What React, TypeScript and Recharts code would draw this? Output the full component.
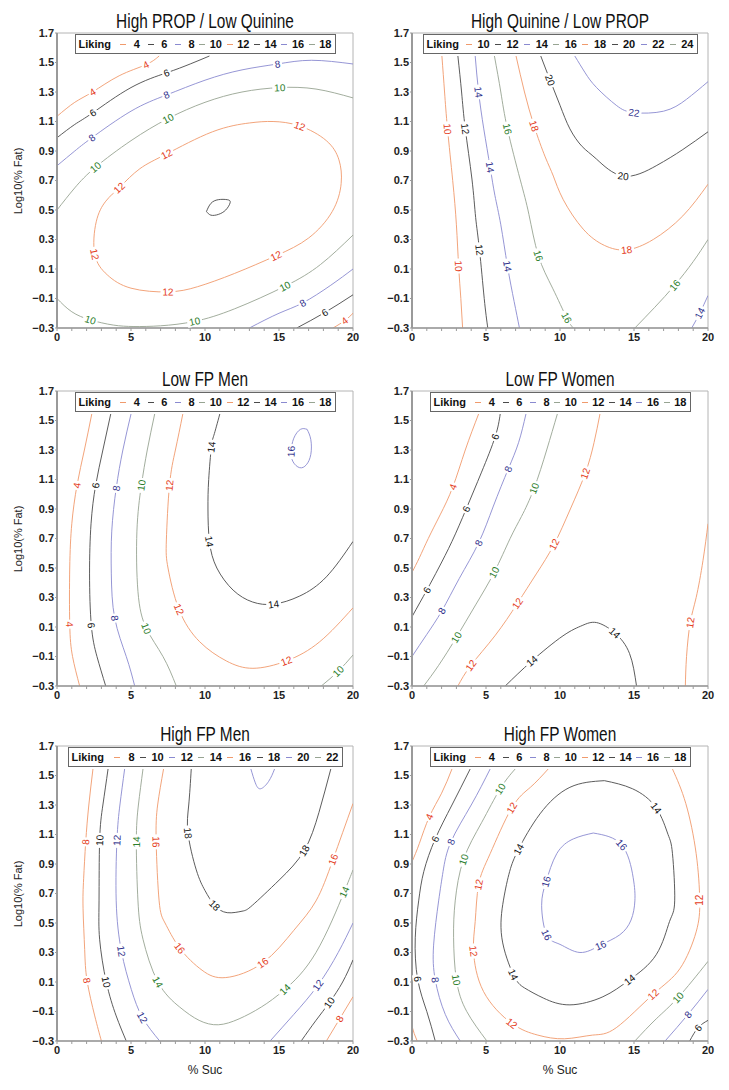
import { ComposedChart, Line, XAxis, YAxis, ReferenceArea } from "recharts";

type Pt = [number, number];
type Contour = { level: number; pts: Pt[]; labels: number[] };

const xTicks = [0, 1, 2, 3, 4, 5, 6, 7, 8, 9, 10, 11, 12, 13, 14, 15, 16, 17, 18, 19, 20];
const yTicks = [-0.3, -0.1, 0.1, 0.3, 0.5, 0.7, 0.9, 1.1, 1.3, 1.5, 1.7];

const levelsLow = [4, 6, 8, 10, 12, 14, 16, 18];
const levelsQuinine = [10, 12, 14, 16, 18, 20, 22, 24];
const levelsHighFpMen = [8, 10, 12, 14, 16, 18, 20, 22];

const propHighContours: Contour[] = [
  { level: 4, pts: [[0, 1.135], [1.2, 1.23], [2.4, 1.3], [4.2, 1.41], [6, 1.485], [6.9, 1.544]], labels: [2, 4] },
  { level: 4, pts: [[18.65, -0.3], [19.44, -0.25], [20, -0.2]], labels: [1] },
  { level: 6, pts: [[0, 0.99], [1.2, 1.08], [2.43, 1.16], [5, 1.33], [7.4, 1.43], [9, 1.49], [10.3, 1.544]], labels: [2, 4] },
  { level: 6, pts: [[16.2, -0.3], [18.1, -0.195], [20, -0.075]], labels: [1] },
  { level: 8, pts: [[0, 0.8], [1.2, 0.9], [2.36, 0.99], [5, 1.17], [7.4, 1.28], [10, 1.38], [12.5, 1.45], [14.9, 1.49], [17.2, 1.515], [20, 1.49]], labels: [2, 4, 7] },
  { level: 8, pts: [[13, -0.3], [15, -0.2], [16.6, -0.13], [18.5, -0.01], [20, 0.1]], labels: [2] },
  { level: 10, pts: [[0, 0.5], [1.2, 0.65], [2.6, 0.79], [5, 0.97], [7.5, 1.12], [10, 1.23], [12.5, 1.3], [15.05, 1.33], [17.5, 1.32], [20, 1.26]], labels: [2, 4, 7] },
  { level: 10, pts: [[0, -0.1], [1, -0.19], [2.25, -0.245], [3.8, -0.28], [5.2, -0.29], [7, -0.285], [9.3, -0.255], [12, -0.17], [15.4, -0.017], [17.8, 0.13], [20, 0.33]], labels: [2, 6, 8] },
  {
    level: 12,
    pts: [[4.2, 0.65], [5.6, 0.78], [7.4, 0.88], [10.5, 1.03], [13, 1.09], [14.6, 1.1], [16.4, 1.07], [18.2, 0.97], [19.05, 0.84], [19.2, 0.68], [18.6, 0.49], [17, 0.31], [14.8, 0.19], [12, 0.07], [9.5, -0.02], [7.5, -0.055], [5, -0.03], [3.4, 0.06], [2.55, 0.2], [2.65, 0.42], [3.3, 0.56], [4.2, 0.65]],
    labels: [0, 2, 6, 12, 15, 18],
  },
  { level: 14, pts: [[10.1, 0.49], [10.4, 0.545], [10.9, 0.57], [11.5, 0.57], [11.7, 0.55], [11.4, 0.5], [10.9, 0.47], [10.4, 0.465], [10.1, 0.49]], labels: [] },
];

const quinineHighContours: Contour[] = [
  { level: 10, pts: [[2.02, 1.544], [2.2, 1.3], [2.4, 1.05], [2.75, 0.7], [3.0, 0.4], [3.15, 0.12], [3.3, -0.1], [3.42, -0.3]], labels: [2, 5] },
  { level: 12, pts: [[3.1, 1.544], [3.35, 1.3], [3.6, 1.05], [4.05, 0.71], [4.3, 0.45], [4.56, 0.23], [4.88, -0.1], [5.12, -0.3]], labels: [2, 5] },
  { level: 14, pts: [[4.27, 1.544], [4.5, 1.3], [4.85, 1.05], [5.28, 0.79], [5.6, 0.6], [6.0, 0.4], [6.45, 0.12], [6.9, -0.12], [7.26, -0.3]], labels: [1, 3, 6] },
  { level: 14, pts: [[18.9, -0.3], [19.44, -0.2], [20, -0.08]], labels: [1] },
  { level: 16, pts: [[5.57, 1.544], [6.0, 1.3], [6.45, 1.05], [7.3, 0.71], [7.9, 0.47], [8.54, 0.19], [9.5, -0.03], [10.45, -0.23], [10.9, -0.3]], labels: [2, 5, 7] },
  { level: 16, pts: [[15.06, -0.3], [16.4, -0.16], [17.75, -0.01], [19, 0.15], [20, 0.3]], labels: [2] },
  { level: 18, pts: [[7.03, 1.544], [7.6, 1.3], [8.25, 1.07], [9.0, 0.86], [9.55, 0.73], [10.22, 0.57], [11.57, 0.37], [13.0, 0.26], [14.5, 0.23], [16.3, 0.3], [18.3, 0.46], [20, 0.675]], labels: [2, 8] },
  { level: 20, pts: [[8.7, 1.544], [9.33, 1.38], [10, 1.21], [10.67, 1.05], [11.5, 0.93], [12.47, 0.845], [14.27, 0.73], [16.5, 0.8], [18.3, 0.91], [20, 1.03]], labels: [1, 6] },
  { level: 22, pts: [[11.0, 1.544], [11.7, 1.43], [12.47, 1.33], [13.8, 1.21], [15.0, 1.16], [17, 1.17], [18.54, 1.25], [20, 1.37]], labels: [4] },
];

const lowFpMenContours: Contour[] = [
  { level: 4, pts: [[2.35, 1.544], [1.85, 1.3], [1.35, 1.06], [1.0, 0.8], [0.86, 0.5], [0.86, 0.12], [1.05, -0.1], [1.53, -0.3]], labels: [2, 5] },
  { level: 6, pts: [[3.63, 1.544], [3.1, 1.3], [2.61, 1.06], [2.3, 0.8], [2.2, 0.46], [2.32, 0.11], [2.7, -0.1], [3.29, -0.3]], labels: [2, 5] },
  { level: 8, pts: [[5.0, 1.544], [4.45, 1.3], [4.0, 1.04], [3.7, 0.75], [3.67, 0.46], [3.9, 0.16], [4.68, -0.1], [5.25, -0.3]], labels: [2, 5] },
  { level: 10, pts: [[6.6, 1.544], [6.1, 1.3], [5.7, 1.06], [5.4, 0.75], [5.47, 0.34], [6.04, 0.09], [7.16, -0.1], [8.06, -0.3]], labels: [2, 5] },
  { level: 10, pts: [[17.86, -0.3], [19.0, -0.2], [20, -0.09]], labels: [1] },
  { level: 12, pts: [[8.5, 1.544], [8.0, 1.3], [7.6, 1.06], [7.39, 0.69], [7.5, 0.5], [8.24, 0.22], [9.64, 0.0], [11.44, -0.13], [13.24, -0.18], [15.5, -0.13], [17.75, 0.0], [20, 0.23]], labels: [2, 5, 9] },
  { level: 14, pts: [[11.0, 1.544], [10.6, 1.4], [10.43, 1.32], [10.25, 1.1], [10.2, 0.9], [10.3, 0.68], [10.8, 0.5], [11.9, 0.35], [13.2, 0.27], [14.64, 0.255], [16.4, 0.31], [18.2, 0.44], [20, 0.68]], labels: [2, 5, 9] },
  { level: 16, pts: [[16.9, 1.44], [17.15, 1.37], [17.15, 1.27], [16.85, 1.2], [16.4, 1.18], [15.95, 1.22], [15.82, 1.29], [16.0, 1.38], [16.45, 1.44], [16.9, 1.44]], labels: [6] },
];

const lowFpWomenContours: Contour[] = [
  { level: 4, pts: [[4.5, 1.544], [3.6, 1.3], [2.76, 1.05], [1.9, 0.86], [1.1, 0.7], [0.5, 0.57], [0, 0.47]], labels: [2] },
  { level: 6, pts: [[5.96, 1.544], [5.62, 1.39], [4.7, 1.15], [3.66, 0.9], [2.7, 0.68], [1.8, 0.5], [1.0, 0.35], [0, 0.17]], labels: [1, 3, 6] },
  { level: 8, pts: [[7.7, 1.544], [7.2, 1.35], [6.5, 1.17], [5.5, 0.92], [4.5, 0.67], [3.2, 0.43], [2.02, 0.21], [1.0, 0.05], [0, -0.1]], labels: [2, 4, 6] },
  { level: 10, pts: [[9.82, 1.544], [9.1, 1.3], [8.25, 1.04], [7.4, 0.85], [6.63, 0.7], [5.55, 0.47], [4.3, 0.25], [3.0, 0.03], [1.8, -0.16], [0.79, -0.3]], labels: [2, 5, 7] },
  { level: 12, pts: [[12.7, 1.544], [12.3, 1.35], [11.7, 1.14], [10.7, 0.9], [9.6, 0.66], [8.4, 0.46], [7.12, 0.26], [5.6, 0.04], [3.98, -0.16], [3.1, -0.3]], labels: [2, 4, 6, 8] },
  { level: 12, pts: [[20, 0.8], [19.66, 0.55], [19.2, 0.3], [18.8, 0.13], [18.55, -0.1], [18.47, -0.3]], labels: [3] },
  { level: 14, pts: [[6.3, -0.3], [8.1, -0.13], [10.2, 0.04], [11.5, 0.11], [12.47, 0.13], [13.7, 0.06], [14.7, -0.08], [15.17, -0.3]], labels: [1, 5] },
];

const highFpMenContours: Contour[] = [
  { level: 8, pts: [[2.43, 1.544], [2.15, 1.3], [1.94, 1.05], [1.8, 0.8], [1.76, 0.6], [1.87, 0.32], [2.03, 0.11], [2.55, -0.13], [3.0, -0.3]], labels: [2, 6] },
  { level: 8, pts: [[18.2, -0.3], [19.1, -0.15], [20, 0.0]], labels: [1] },
  { level: 10, pts: [[3.45, 1.544], [3.1, 1.3], [2.88, 1.06], [2.84, 0.65], [2.88, 0.39], [3.33, 0.1], [4.0, -0.13], [4.68, -0.3]], labels: [2, 5] },
  { level: 10, pts: [[16.5, -0.3], [17.5, -0.16], [18.4, -0.04], [19.3, 0.1], [20, 0.25]], labels: [2] },
  { level: 12, pts: [[4.57, 1.544], [4.25, 1.3], [4.05, 1.06], [4.0, 0.65], [4.35, 0.31], [5.02, 0.05], [5.77, -0.14], [6.94, -0.3]], labels: [2, 4, 6] },
  { level: 12, pts: [[14.4, -0.3], [16, -0.12], [17.63, 0.078], [19, 0.3], [20, 0.5]], labels: [2] },
  { level: 14, pts: [[5.81, 1.544], [5.5, 1.3], [5.36, 1.05], [5.47, 0.65], [5.81, 0.39], [6.82, 0.1], [8.29, -0.07], [9.6, -0.16], [10.9, -0.19], [12.3, -0.15], [13.8, -0.07], [15.4, 0.05], [17.5, 0.3], [19.4, 0.71], [20, 0.86]], labels: [2, 5, 11, 13] },
  { level: 16, pts: [[7.2, 1.544], [6.8, 1.3], [6.7, 1.05], [6.9, 0.65], [7.3, 0.5], [8.29, 0.33], [9.8, 0.18], [11.4, 0.13], [13.9, 0.23], [16, 0.45], [17.5, 0.65], [18.65, 0.93], [20, 1.31]], labels: [2, 5, 8, 11] },
  { level: 18, pts: [[9.07, 1.544], [8.9, 1.3], [8.85, 1.11], [9.41, 0.86], [10.0, 0.72], [10.65, 0.62], [11.5, 0.57], [12.5, 0.58], [13.2, 0.62], [15, 0.79], [16.7, 0.99], [17.7, 1.25], [18.5, 1.544]], labels: [2, 5, 10] },
  { level: 20, pts: [[13.1, 1.544], [13.4, 1.45], [13.75, 1.41], [14.3, 1.46], [14.7, 1.544]], labels: [] },
];

const highFpWomenContours: Contour[] = [
  { level: 4, pts: [[2.7, 1.544], [2.0, 1.38], [1.17, 1.22], [0.5, 1.04], [0, 0.915]], labels: [2] },
  { level: 4, pts: [[0, -0.2], [0.15, -0.25], [0.35, -0.3]], labels: [] },
  { level: 6, pts: [[3.93, 1.544], [2.7, 1.3], [1.57, 1.07], [0.8, 0.85], [0.45, 0.65], [0.22, 0.4], [0.38, 0.12], [1.0, -0.1], [1.57, -0.3]], labels: [2, 6] },
  { level: 6, pts: [[18.76, -0.3], [19.33, -0.21], [20, -0.16]], labels: [1] },
  { level: 8, pts: [[5.28, 1.544], [4.0, 1.3], [2.63, 1.05], [2.1, 0.85], [1.8, 0.65], [1.46, 0.35], [1.57, 0.115], [2.25, -0.12], [3.26, -0.3]], labels: [2, 6] },
  { level: 8, pts: [[17.1, -0.3], [18.65, -0.12], [20, 0.05]], labels: [1] },
  { level: 10, pts: [[6.97, 1.544], [5.96, 1.41], [4.7, 1.18], [3.48, 0.93], [2.92, 0.65], [2.81, 0.4], [3.0, 0.115], [3.7, -0.1], [5.06, -0.3]], labels: [1, 3, 6] },
  { level: 10, pts: [[15.06, -0.3], [16.5, -0.15], [17.98, -0.005], [20, 0.24]], labels: [2] },
  {
    level: 12,
    pts: [[9.2, 1.544], [8.0, 1.42], [6.74, 1.28], [5.28, 0.97], [4.5, 0.76], [4.27, 0.51], [4.16, 0.31], [4.83, 0.036], [6.74, -0.18], [8.5, -0.26], [10.3, -0.285], [12.2, -0.26], [13.8, -0.21], [16.3, 0.017], [18.1, 0.19], [19.2, 0.44], [19.44, 0.655], [19.2, 0.97], [18.5, 1.31], [17.6, 1.544]],
    labels: [2, 4, 6, 8, 13, 16],
  },
  {
    level: 14,
    pts: [[13.0, 1.465], [14.9, 1.41], [16.5, 1.28], [17.3, 1.1], [17.6, 0.97], [17.75, 0.65], [17.4, 0.51], [16.5, 0.285], [14.7, 0.115], [12.9, 0.0], [10.67, -0.055], [8.9, -0.01], [7.6, 0.06], [6.85, 0.15], [6.07, 0.4], [6.18, 0.655], [6.6, 0.85], [7.2, 1.0], [8.65, 1.24], [10.67, 1.42], [13.0, 1.465]],
    labels: [2, 8, 13, 17],
  },
  {
    level: 16,
    pts: [[12.25, 1.11], [14.16, 1.03], [14.94, 0.81], [15.06, 0.65], [14.8, 0.52], [14.04, 0.42], [12.74, 0.35], [11.35, 0.3], [10.0, 0.355], [9.1, 0.42], [8.76, 0.62], [9.06, 0.78], [9.78, 0.97], [10.9, 1.07], [12.25, 1.11]],
    labels: [1, 6, 9, 11],
  },
];

const panels = [
  { title: "High PROP / Low Quinine", levels: levelsLow, contours: propHighContours },
  { title: "High Quinine / Low PROP", levels: levelsQuinine, contours: quinineHighContours },
  { title: "Low FP Men", levels: levelsLow, contours: lowFpMenContours },
  { title: "Low FP Women", levels: levelsLow, contours: lowFpWomenContours },
  { title: "High FP Men", levels: levelsHighFpMen, contours: highFpMenContours },
  { title: "High FP Women", levels: levelsLow, contours: highFpWomenContours },
];

const lineColors = ["#f09a6c", "#4a4a4a", "#8a8ad0", "#97a492"];
const labelColors = ["#e43c1c", "#111111", "#30308c", "#2b7d2b"];

const PLOT_W = 296;
const PLOT_H = 295;
const ROW_TOP = [33, 391, 746];
const COL_X = [0, 364];
const AXIS_W = [57, 48];
const CHART_W = 365;
const CHART_H = 373;
const sans = '"Liberation Sans", Arial, sans-serif';

function fmtY(v: number) {
  return v < 0 ? "\u2212" + Math.abs(v).toFixed(1) : v.toFixed(1);
}

function labelDot(c: Contour, color: string) {
  return (props: any) => {
    const { cx, cy, index } = props;
    if (!c.labels.includes(index) || cx == null || cy == null) return <g key={`n${index}`} />;
    const n = c.pts.length;
    const closed = c.pts[0][0] === c.pts[n - 1][0] && c.pts[0][1] === c.pts[n - 1][1];
    const prev = index > 0 ? c.pts[index - 1] : closed ? c.pts[n - 2] : c.pts[index];
    const next = index < n - 1 ? c.pts[index + 1] : c.pts[index];
    const dx = ((next[0] - prev[0]) * PLOT_W) / 20;
    const dy = (-(next[1] - prev[1]) * PLOT_H) / 2;
    let ang = (Math.atan2(dy, dx) * 180) / Math.PI;
    if (ang > 90) ang -= 180;
    if (ang < -90) ang += 180;
    const txt = String(c.level);
    const w = txt.length * 6 + 3;
    return (
      <g key={`l${index}`} transform={`translate(${cx},${cy}) rotate(${ang})`}>
        <rect x={-w / 2} y={-5} width={w} height={10} fill="#ffffff" />
        <text x={0} y={3.6} textAnchor="middle" fontSize={10} fontFamily={sans} fill={color}>
          {txt}
        </text>
      </g>
    );
  };
}

function Panel({ idx }: { idx: number }) {
  const p = panels[idx];
  const col = idx % 2;
  const row = Math.floor(idx / 2);
  const plotTop = ROW_TOP[row];
  const plotLeft = COL_X[col] + AXIS_W[col];
  const legendW = p.levels[0] >= 8 ? 275 : 261;

  return (
    <>
      <div
        style={{
          position: "absolute",
          left: plotLeft,
          top: plotTop - 22,
          width: PLOT_W,
          textAlign: "center",
          fontFamily: sans,
          fontSize: 20,
          lineHeight: "20px",
          color: "#111",
          whiteSpace: "nowrap",
          transform: "scaleX(0.77)",
          transformOrigin: "center",
        }}
      >
        {p.title}
      </div>
      <div style={{ position: "absolute", left: COL_X[col], top: plotTop - 33 }}>
        <ComposedChart
          width={CHART_W}
          height={CHART_H}
          margin={{ top: 33, right: CHART_W - AXIS_W[col] - PLOT_W, bottom: 15, left: 0 }}
        >
          <XAxis
            dataKey="x"
            type="number"
            domain={[0, 20]}
            ticks={xTicks}
            interval={0}
            allowDataOverflow
            height={30}
            tickSize={3}
            tickMargin={2}
            tickFormatter={(v: number) => (v % 5 === 0 ? String(v) : "")}
            axisLine={{ stroke: "#9a9a9a", strokeWidth: 1.5 }}
            tickLine={{ stroke: "#9a9a9a" }}
            tick={{ fontSize: 11, fontWeight: 700, fill: "#222", fontFamily: sans }}
          />
          <YAxis
            type="number"
            domain={[-0.3, 1.7]}
            ticks={yTicks}
            interval={0}
            allowDataOverflow
            width={AXIS_W[col]}
            tickSize={2}
            tickMargin={1}
            tickFormatter={fmtY}
            axisLine={{ stroke: "#9a9a9a", strokeWidth: 2 }}
            tickLine={{ stroke: "#9a9a9a" }}
            tick={{ fontSize: 11, fontWeight: 700, fill: "#222", fontFamily: sans }}
          />
          <ReferenceArea x1={0} x2={20} y1={-0.3} y2={1.7} fill="none" stroke="#b4b4b4" strokeWidth={1} />
          {p.contours.map((c, i) => {
            const ci = p.levels.indexOf(c.level) % 4;
            return (
              <Line
                key={`c${i}`}
                data={c.pts.map(([x, y]) => ({ x, y }))}
                dataKey="y"
                type="natural"
                stroke={lineColors[ci]}
                strokeWidth={0.9}
                dot={labelDot(c, labelColors[ci])}
                activeDot={false}
                isAnimationActive={false}
              />
            );
          })}
        </ComposedChart>
      </div>
      <div
        style={{
          position: "absolute",
          left: plotLeft + (PLOT_W - legendW) / 2,
          top: plotTop + 1,
          width: legendW,
          height: 20,
          boxSizing: "border-box",
          border: "1px solid #666",
          background: "#fff",
          display: "flex",
          alignItems: "center",
          padding: "0 3px 0 3px",
          fontFamily: sans,
          fontSize: 11,
          fontWeight: 700,
          color: "#111",
        }}
      >
        <span style={{ width: 34 }}>Liking</span>
        {p.levels.map((lv, i) => (
          <span key={lv} style={{ flex: 1, display: "flex", alignItems: "center" }}>
            <span style={{ flex: 1, display: "flex", justifyContent: "center" }}>
              <span style={{ display: "inline-block", width: 6, height: 1, background: lineColors[i % 4] }} />
            </span>
            <span>{lv}</span>
          </span>
        ))}
      </div>
      {col === 0 && (
        <div
          style={{
            position: "absolute",
            left: 18,
            top: plotTop + PLOT_H / 2,
            transform: "translate(-50%, -50%) rotate(-90deg)",
            fontFamily: sans,
            fontSize: 11,
            color: "#222",
            whiteSpace: "nowrap",
          }}
        >
          Log10(% Fat)
        </div>
      )}
      {row === 2 && (
        <div
          style={{
            position: "absolute",
            left: plotLeft,
            top: plotTop + PLOT_H + 22,
            width: PLOT_W,
            textAlign: "center",
            fontFamily: sans,
            fontSize: 12,
            color: "#222",
          }}
        >
          % Suc
        </div>
      )}
    </>
  );
}

export default function App() {
  return (
    <div style={{ position: "absolute", left: 0, top: 0, width: 729, height: 1090, background: "#fff" }}>
      {panels.map((_, i) => (
        <Panel key={i} idx={i} />
      ))}
    </div>
  );
}
